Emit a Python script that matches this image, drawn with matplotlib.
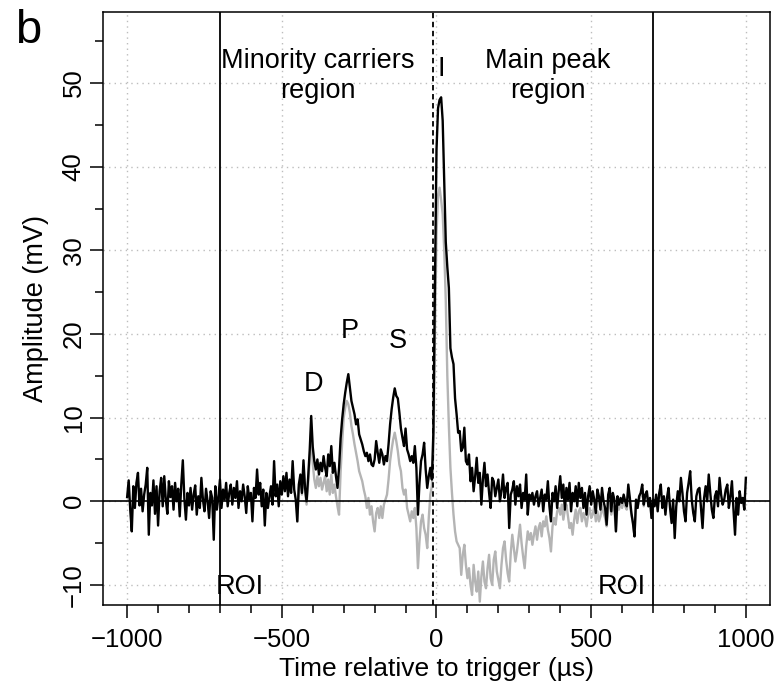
import numpy as np
import matplotlib
matplotlib.use("Agg")
import matplotlib.pyplot as plt
from matplotlib.ticker import MultipleLocator

plt.rcParams['font.family'] = ['Liberation Sans', 'DejaVu Sans']

# Black trace: -1000 .. 1000 us
black_t = np.arange(-1000, 1001, 5)
black_mv = [
    0.5, 2.5, -1.0, -3.6, 1.8, -0.8, 2.2, 3.4, -0.5, 1.5, -1.2, 0.8, 2.0, 4.0, -4.0, 1.0, -0.5, 2.5, -1.5, 1.8,
    -2.9, 1.2, 2.8, -0.6, 3.0, 0.2, -1.5, 2.4, 0.5, 1.8, -1.0, 2.2, 0.0, 1.5, -1.8, 2.0, 4.9, 0.3, -2.2, 1.0,
    -0.5, 1.6, -1.0, 0.8, 1.9, -1.6, 0.6, -0.8, 2.8, 0.2, -1.2, 1.5, 0.0, -2.0, 1.2, 0.4, -4.6, 1.8, -1.0, 0.5,
    2.6, -0.8, 1.4, 0.2, 2.2, -0.6, 1.0, 2.0, -0.4, 1.6, 0.4, 2.4, -0.8, 1.2, 0.0, 2.0, 0.6, -1.4, 1.8, 0.2,
    1.0, -2.4, 1.6, 0.4, 3.8, 0.8, 2.2, -0.6, 1.4, -2.9, 1.0, -0.8, 0.6, 1.8, -0.4, 4.8, 0.6, 2.0, -0.6, 2.4,
    0.8, 3.0, 1.2, 3.4, 0.6, 2.6, 1.0, 4.8, 1.4, 0.2, -2.4, 2.0, 3.2, 1.0, 4.9, 1.6, 0.0, 2.8, 6.0, 10.2,
    6.5, 4.8, 3.8, 5.0, 3.2, 4.6, 3.6, 5.4, 4.0, 3.0, 5.6, 4.2, 6.6, 3.4, 4.6, 3.0, 1.6, 4.0, 7.5, 9.8,
    11.6, 13.0, 14.2, 15.2, 13.6, 12.0, 11.2, 10.4, 9.2, 9.8, 8.0, 7.4, 6.8, 6.0, 5.4, 5.8, 4.8, 5.6, 4.4, 4.2,
    5.0, 7.2, 5.8, 4.6, 6.2, 5.6, 4.4, 5.4, 4.8, 6.8, 9.2, 11.0, 12.4, 13.5, 12.6, 12.3, 10.6, 8.7, 7.6, 6.6,
    8.7, 6.2, 5.6, 4.8, 5.4, 4.6, 6.6, 4.0, -1.6, 2.2, 4.8, 5.6, 7.0, 3.8, 1.6, 3.0, 4.0, 2.6, 8.4, 26.0,
    42.0, 47.0, 48.0, 48.3, 45.5, 38.0, 31.0, 28.0, 25.5, 18.3, 17.2, 16.4, 12.3, 10.4, 8.2, 8.4, 6.0, 6.4, 8.8, 4.8,
    4.4, 5.6, 2.4, 4.0, 1.2, 3.0, 5.2, 2.2, 3.4, -0.4, 2.6, 4.6, 1.8, 3.2, 1.0, -0.8, 2.8, 2.4, 0.6, 1.6,
    2.6, 0.0, 1.2, 3.2, 0.4, 1.6, 2.2, -3.2, 0.8, 1.4, 2.4, -0.4, 1.8, 0.6, 2.0, -0.8, 1.0, 0.2, 3.2, -1.6,
    0.8, 0.2, 1.0, -0.4, 0.6, 1.2, -0.6, 0.4, 1.4, -1.2, 0.8, 0.2, 2.4, -0.6, -2.4, 1.0, 0.0, 1.8, -0.8, 1.2,
    3.0, 0.4, 2.0, -1.0, 1.6, 0.2, 2.2, -1.2, 1.0, 0.0, 1.8, -0.6, 2.2, 0.4, 1.6, -0.8, 1.0, -1.6, 0.6, 1.8,
    -0.4, 1.2, 0.2, -1.4, 1.4, 0.6, -1.0, 1.6, 0.0, -0.8, -2.8, 0.8, 1.6, -1.2, 1.0, 0.2, -3.6, 0.6, -0.4, 0.4,
    -0.2, 0.8, 0.0, -0.6, 2.0, 0.4, -1.4, -2.6, -4.2, 0.2, -0.8, 0.6, 1.0, 2.0, -0.4, 0.8, 1.2, -0.6, 0.4, -2.0,
    0.2, -0.6, 0.8, -1.2, 1.0, 2.0, -0.8, 0.6, -1.6, 0.4, 1.6, -0.8, -2.6, 0.2, -4.4, -0.6, 1.2, 0.0, 2.8, 1.0,
    -1.2, -2.4, 1.0, 2.2, 3.6, 0.2, -1.4, -2.4, 0.6, 1.4, 1.6, -0.8, -3.2, 0.4, 1.8, 0.0, 3.2, 1.0, -1.0, -2.0,
    0.6, 1.2, -0.6, 2.8, 0.8, -0.4, 0.2, 1.4, 2.0, -0.8, 0.6, 2.4, -1.0, -4.0, 0.4, -1.6, 1.2, -0.2, 0.4, -1.0,
    2.8,
]

# Grey trace: -450 .. 700 us (hidden under the black one elsewhere)
grey_t = np.arange(-450, 701, 5)
grey_mv = [
    -2.4, 1.6, 2.6, 0.8, 4.0, 1.2, -0.4, 2.0, 5.0, 8.5, 4.5, 2.6, 1.6, 3.0, 1.8, 2.8, 1.4, 2.2, 3.0, 1.2,
    2.6, 0.8, 3.2, 1.0, 2.0, 0.6, -0.6, -1.6, 3.5, 7.0, 10.0, 11.2, 12.0, 11.6, 10.6, 9.0, 8.0, 6.8, 5.8, 4.8,
    3.6, 3.0, 2.4, 1.4, 0.6, -0.8, 0.4, -1.6, -0.6, -2.4, -3.6, -1.4, -0.8, -2.0, -0.6, -2.0, -0.4, 0.2, 0.8, 2.6,
    4.8, 6.2, 7.4, 8.2, 7.2, 6.0, 4.4, 3.6, 1.6, 0.8, 1.4, -0.8, -1.6, -2.4, -1.2, -2.0, -0.8, -3.2, -8.0, -4.8,
    -2.4, -1.6, -3.2, -4.0, -5.6, -2.0, 0.8, 1.8, 6.0, 20.0, 32.0, 36.5, 37.5, 36.0, 34.3, 30.0, 24.0, 15.0, 9.0, 4.0,
    1.0, -1.6, -3.6, -4.8, -5.2, -5.6, -8.8, -6.4, -5.2, -7.6, -9.2, -8.0, -10.0, -11.2, -7.6, -9.6, -10.8, -8.4, -12.0, -9.0,
    -7.2, -9.6, -10.4, -8.0, -6.4, -9.2, -10.0, -7.0, -6.0, -8.4, -9.4, -10.4, -7.6, -5.6, -4.8, -7.0, -8.6, -9.6, -6.2, -4.0,
    -5.6, -7.2, -6.0, -4.4, -2.8, -5.0, -6.6, -8.0, -5.4, -3.6, -4.6, -3.8, -5.2, -4.0, -3.0, -4.6, -3.2, -2.6, -4.2, -2.4,
    -3.0, -1.8, -3.4, -4.4, -6.0, -3.0, -2.0, -2.8, -1.2, -0.8, -1.6, -0.4, -2.2, -1.0, -0.4, -1.8, -3.2, -2.6, -4.0, -2.2,
    -1.0, -2.6, -1.2, -0.8, -2.4, -1.4, -2.0, -3.0, -1.6, -0.8, -2.0, -1.6, -0.6, -2.4, -1.2, -2.4, -1.8, -0.4, -1.4, -2.0,
    -3.0, -0.8, -0.2, -1.6, -0.6, -1.0, -3.6, -0.4, -1.0, -0.2, -0.8, 0.2, -0.6, -1.0, 1.2, -0.2, -1.6, -2.6, -4.2, -0.4,
    -0.8, 0.2, 0.6, 1.6, -0.6, 0.6, 1.0, -0.6, 0.2, -2.0, 0.2,
]

roi_edges = [-700, 700]
trigger_line = -12

fig = plt.figure(figsize=(7.78, 6.93), dpi=100)
ax = fig.add_axes([0.1324, 0.127, 0.8573, 0.8557])

ax.plot(grey_t, grey_mv, color='#b4b4b4', lw=1.7, zorder=3)
ax.plot(black_t, black_mv, color='black', lw=1.7, zorder=4)

ax.axhline(0, color='black', lw=1.2, zorder=5)
for e in roi_edges:
    ax.axvline(e, color='black', lw=1.3, zorder=5)
ax.axvline(trigger_line, color='black', lw=1.3, ls=(0, (3, 2)), zorder=5)

ax.set_xlim(-1078, 1078)
ax.set_ylim(-12.4, 58.5)
ax.xaxis.set_major_locator(MultipleLocator(500))
ax.xaxis.set_minor_locator(MultipleLocator(100))
ax.yaxis.set_major_locator(MultipleLocator(10))
ax.yaxis.set_minor_locator(MultipleLocator(5))
ax.grid(True, which='major', color='#bdbdbd', ls=(0, (1, 3)), lw=1.0, zorder=0)

ax.tick_params(which='both', direction='out', width=1.1, labelsize=18.5)
ax.tick_params(which='major', length=9.5)
ax.tick_params(which='minor', length=6)
ax.tick_params(axis='x', pad=7)
ax.tick_params(axis='y', pad=3)
ax.set_xticks([-1000, -500, 0, 500, 1000])
ax.set_xticklabels(['\u22121000', '\u2212500', '0', '500', '1000'])
ax.set_yticks([-10, 0, 10, 20, 30, 40, 50])
ax.set_yticklabels(['\u221210', '0', '10', '20', '30', '40', '50'], rotation=90, va='center')
for s in ax.spines.values():
    s.set_linewidth(1.1)

ax.set_xlabel('Time relative to trigger (\u00b5s)', fontsize=19, labelpad=4)
ax.set_ylabel('Amplitude (mV)', fontsize=19.5, labelpad=9)

ax.text(-383, 50.9, 'Minority carriers\nregion', ha='center', va='center', fontsize=19.5, linespacing=1.2)
ax.text(360, 50.9, 'Main peak\nregion', ha='center', va='center', fontsize=19.5, linespacing=1.2)
ax.text(15, 51.7, 'I', ha='center', va='center', fontsize=19.5)
ax.text(-399, 14.0, 'D', ha='center', va='center', fontsize=19.5)
ax.text(-280, 20.4, 'P', ha='center', va='center', fontsize=19.5)
ax.text(-124, 19.2, 'S', ha='center', va='center', fontsize=19.5)
ax.text(-635, -10.2, 'ROI', ha='center', va='center', fontsize=19.5)
ax.text(600, -10.2, 'ROI', ha='center', va='center', fontsize=19.5)

fig.text(0.036, 0.955, 'b', ha='center', va='center', fontsize=34)

fig.savefig('out.png', dpi=100)
